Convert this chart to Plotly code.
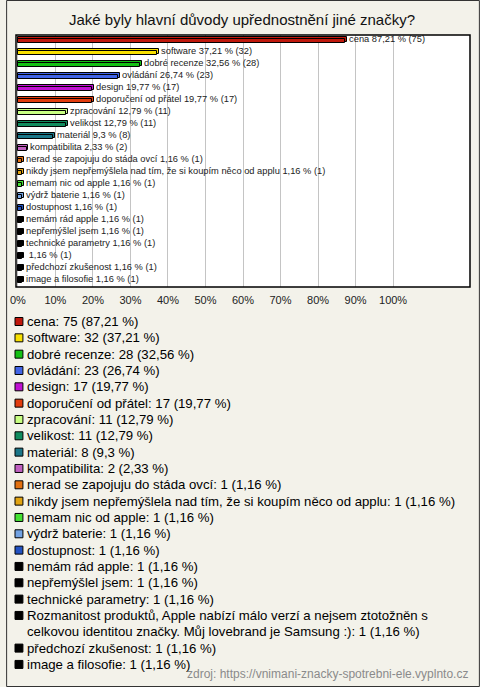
import textwrap
import plotly.graph_objects as go

# ---------------- data ----------------
categories = [
    "cena", "software", "dobré recenze", "ovládání", "design",
    "doporučení od přátel", "zpracování", "velikost", "materiál", "kompatibilita",
    "nerad se zapojuju do stáda ovcí",
    "nikdy jsem nepřemýšlela nad tím, že si koupím něco od applu",
    "nemam nic od apple", "výdrž baterie", "dostupnost", "nemám rád apple",
    "nepřemýšlel jsem", "technické parametry",
    "Rozmanitost produktů, Apple nabízí málo verzí a nejsem ztotožněn s celkovou identitou značky. Můj lovebrand je Samsung :)",
    "předchozí zkušenost", "image a filosofie",
]
counts = [75, 32, 28, 23, 17, 17, 11, 11, 8, 2, 1, 1, 1, 1, 1, 1, 1, 1, 1, 1, 1]
percents = [87.21, 37.21, 32.56, 26.74, 19.77, 19.77, 12.79, 12.79, 9.3, 2.33,
            1.16, 1.16, 1.16, 1.16, 1.16, 1.16, 1.16, 1.16, 1.16, 1.16, 1.16]
colors = [
    "#c0180c", "#f8e000", "#14c014", "#4164e6", "#c010d2", "#e23c0e",
    "#c8ff82", "#108c5e", "#1a7688", "#c060c0", "#e27010", "#e2a412",
    "#44e232", "#72a2e2", "#2252c2", "#000000", "#000000", "#000000",
    "#000000", "#000000", "#000000",
]
tick_values = [0, 10, 20, 30, 40, 50, 60, 70, 80, 90, 100]
tick_labels = [f"{v}%" for v in tick_values]
title_text = "Jaké byly hlavní důvody upřednostnění jiné značky?"
source_text = "zdroj: https://vnimani-znacky-spotrebni-ele.vyplnto.cz"

# ---------------- helpers ----------------
FONT = "Liberation Sans, Arial, Helvetica, sans-serif"
W, H = 480, 687
ML, MR, MT, MB = 10, 10, 35, 400
PW = W - ML - MR
PH = H - MT - MB
NB = "\u00a0"


def px_x(px):
    return (px - ML) / PW


def px_y(py):
    return (H - MB - py) / PH


def fmt(p):
    return f"{p:g}".replace(".", ",")


n = len(categories)
ypos = list(range(n))
bar_names = [c if len(c) < 100 else "" for c in categories]
bar_text = [f"{NB}{b} {fmt(p)} % ({c})" for b, p, c in zip(bar_names, percents, counts)]

BW = 0.38
fig = go.Figure()
# 3D "extrusion" behind
fig.add_trace(go.Bar(
    x=[p + 0.5 for p in percents], y=ypos, orientation="h",
    width=BW, offset=-BW / 2 - 0.14,
    marker=dict(color=colors, line=dict(color="#000000", width=1)),
    text=bar_text, textposition="outside", constraintext="none", cliponaxis=False,
    textfont=dict(family=FONT, size=9.3, color="#222222"),
    hoverinfo="skip", showlegend=False,
))
# front face
fig.add_trace(go.Bar(
    x=percents, y=ypos, orientation="h",
    width=BW, offset=-BW / 2,
    marker=dict(color=colors, line=dict(color="#000000", width=1)),
    showlegend=False, hovertext=categories, hoverinfo="text+x",
))

shapes = []
annotations = []

# outer frame
shapes.append(dict(type="rect", xref="paper", yref="paper",
                   x0=px_x(0.5), x1=px_x(W - 0.5), y0=px_y(H - 0.5), y1=px_y(0.5),
                   line=dict(color="#333333", width=1), fillcolor="rgba(0,0,0,0)", layer="below"))
# plot frame
shapes.append(dict(type="rect", xref="paper", yref="paper", x0=0, x1=1, y0=0, y1=1,
                   line=dict(color="#000000", width=1.5), fillcolor="rgba(0,0,0,0)", layer="above"))

# title
annotations.append(dict(text=title_text, xref="paper", yref="paper",
                        x=px_x(239), y=px_y(20), xanchor="center", yanchor="middle",
                        showarrow=False, font=dict(family=FONT, size=15, color="#111111")))

# custom legend
line_h = 16.33
y0 = 321
line_idx = 0
for cat, c, p, col in zip(categories, counts, percents, colors):
    label = f"{cat}: {c} ({fmt(p)} %)"
    lines = textwrap.wrap(label, 72)
    cy = y0 + line_idx * line_h
    shapes.append(dict(type="rect", xref="paper", yref="paper",
                       x0=px_x(9), x1=px_x(17), y0=px_y(cy + 4.5), y1=px_y(cy - 3.5),
                       fillcolor=col, line=dict(color="#000000", width=1)))
    for k, ln in enumerate(lines):
        annotations.append(dict(text=ln, xref="paper", yref="paper",
                                x=px_x(19), y=px_y(cy + k * line_h + 0.5),
                                xanchor="left", yanchor="middle", showarrow=False,
                                font=dict(family=FONT, size=13.2, color="#000000")))
    line_idx += len(lines)

# source
annotations.append(dict(text=source_text, xref="paper", yref="paper",
                        x=px_x(470), y=px_y(674), xanchor="right", yanchor="middle",
                        showarrow=False, font=dict(family=FONT, size=12, color="#8a8a8a")))

fig.update_layout(
    width=W, height=H,
    margin=dict(l=ML, r=MR, t=MT, b=MB, pad=0),
    paper_bgcolor="#f3f2ea", plot_bgcolor="#ffffff",
    barmode="overlay", bargap=0,
    showlegend=False,
    shapes=shapes, annotations=annotations,
    font=dict(family=FONT),
    xaxis=dict(range=[-0.5, 120.5], tickvals=tick_values, ticktext=tick_labels,
               showgrid=True, gridcolor="#c4c4c4", gridwidth=1, zeroline=False,
               ticks="outside", ticklen=3, tickcolor="rgba(0,0,0,0)",
               tickfont=dict(family=FONT, size=11, color="#222222"),
               showline=False, fixedrange=True),
    yaxis=dict(range=[n - 0.5, -0.5], showticklabels=False, showgrid=False,
               zeroline=False, ticks="", fixedrange=True),
)

fig.write_html(
    "out.html",
    config={"displayModeBar": False},
    post_script="document.body.style.margin='0';document.body.style.padding='0';document.body.style.overflow='hidden';",
)
